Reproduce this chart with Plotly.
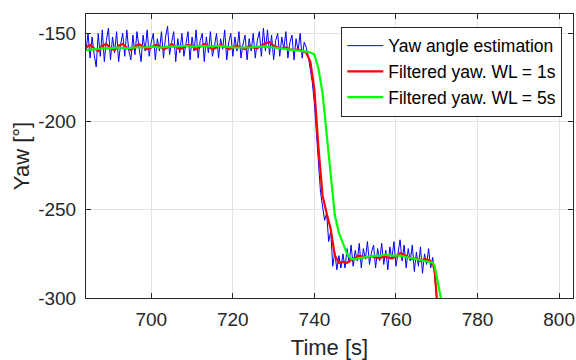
import numpy as np
import plotly.graph_objects as go

# ---- data ----
yaw_t0 = 684.0
yaw_dt = 0.5
yaw_est = [
    -160, -150, -164, -152, -162, -169, -150, -163, -148, -166,
    -154, -147, -165, -152, -161, -149, -166, -156, -150, -163,
    -148, -160, -165, -151, -162, -149, -158, -166, -151, -160,
    -148, -163, -155, -150, -165, -153, -160, -149, -164, -152,
    -146, -162, -155, -149, -166, -153, -161, -150, -163, -156,
    -149, -165, -152, -160, -148, -164, -154, -150, -166, -152,
    -161, -149, -163, -157, -150, -164, -153, -159, -148, -165,
    -155, -150, -163, -152, -160, -149, -164, -156, -151, -165,
    -153, -160, -150, -164, -154, -149, -163, -147, -160, -148,
    -162, -151, -165, -154, -150, -163, -152, -159, -149, -164,
    -155, -151, -165, -153, -160, -150, -164, -155, -158,
    # drop and second plateau (from 738.5 s)
    -163, -170, -178, -190, -205, -225, -240, -248, -256, -252,
    -268, -262, -282, -274, -284, -276, -283, -275, -283, -272,
    -280, -270, -282, -273, -279, -269, -283, -272, -278, -268,
    -281, -274, -270, -283, -272, -279, -269, -281, -273, -284,
    -271, -278, -268, -282, -274, -267, -279, -270, -283, -272,
    -279, -270, -285, -274, -282, -271, -286, -275, -281, -272,
    -283, -277, -288, -300, -315,
]

red_t = [684, 685, 686, 687, 688, 689, 690, 691, 692, 693, 694, 695, 696, 697,
         698, 699, 700, 701, 702, 703, 704, 705, 706, 707, 708, 709, 710, 711,
         712, 713, 714, 715, 716, 717, 718, 719, 720, 721, 722, 723, 724, 725,
         726, 727, 728, 729, 730, 731, 732, 733, 734, 735, 736, 737, 738, 739,
         740, 741, 742, 743, 744, 745, 746, 747, 748, 749, 750, 751, 752, 753,
         754, 755, 756, 757, 758, 759, 760, 761, 762, 763, 764, 765, 766, 767,
         768, 769, 769.5, 770, 770.5]
red_y = [-158, -156.5, -158.5, -160, -157, -156, -158.5, -159.5, -157, -156,
         -158, -159.5, -157.5, -156, -157.5, -159, -158, -156.5, -157, -159,
         -158, -156, -157.5, -159, -158, -156.5, -157, -159, -157.5, -156,
         -157.5, -159, -158, -156.5, -157.5, -159, -158, -157, -158, -159,
         -157, -158, -158.5, -157, -155.5, -155, -157, -158, -158.5, -158,
         -159, -159.5, -159, -160, -161, -166, -182, -215, -242, -252,
         -261, -276, -280, -279.5, -280, -278.5, -277, -276, -276.5, -277,
         -276.5, -277, -277.5, -276.5, -277, -277.5, -276.5, -274.5, -275.5, -277,
         -278, -277.5, -279, -278, -278.5, -280, -285, -300, -310]

green_t = [684, 686, 688, 690, 692, 694, 696, 698, 700, 702, 704, 706, 708, 710,
           712, 714, 716, 718, 720, 722, 724, 726, 728, 730, 732, 734, 736, 737,
           738, 739, 740, 741, 742, 743, 744, 745, 746, 747, 748, 749, 750, 751,
           752, 753, 754, 755, 756, 757, 758, 759, 760, 761, 762, 763, 764, 765,
           766, 767, 768, 769, 769.5, 770, 770.5, 771, 771.5]
green_y = [-159.5, -159, -158.5, -158.5, -158, -158.5, -158, -158, -157.5, -158,
           -157.5, -157.5, -157, -157.5, -157, -157.5, -157, -157.5, -158, -158,
           -158, -157.5, -157.5, -158, -158.5, -159, -159.5, -160, -160.3, -160.8,
           -162, -170, -184, -207, -232, -253, -263, -269, -275, -278,
           -278, -277.5, -277, -276.5, -276.5, -276, -276, -275.5, -275.5, -276,
           -276, -276, -276.5, -277, -277.5, -278, -278.5, -279, -279.5, -280,
           -282, -288, -294, -300, -306]

x_ticks = [700, 720, 740, 760, 780, 800]
x_labels = ["700", "720", "740", "760", "780", "800"]
y_ticks = [-300, -250, -200, -150]
y_labels = ["-300", "-250", "-200", "-150"]
x_range = [684, 803.4]
y_range = [-300, -139]

names = ["Yaw angle estimation", "Filtered yaw. WL = 1s", "Filtered yaw. WL = 5s"]

yaw_t = yaw_t0 + yaw_dt * np.arange(len(yaw_est))

# ---- figure ----
FONT = "Liberation Sans, Arial, sans-serif"
TXT = "#262626"
fig = go.Figure()
fig.add_trace(go.Scatter(x=yaw_t, y=yaw_est, mode="lines", name=names[0],
                         line=dict(color="#0000FF", width=1)))
fig.add_trace(go.Scatter(x=red_t, y=red_y, mode="lines", name=names[1],
                         line=dict(color="#FF0000", width=2.2)))
fig.add_trace(go.Scatter(x=green_t, y=green_y, mode="lines", name=names[2],
                         line=dict(color="#00FF00", width=2.2)))

axis_common = dict(
    showline=True, linecolor=TXT, linewidth=1, mirror="ticks",
    ticks="inside", ticklen=5, tickcolor=TXT, tickwidth=1,
    showgrid=True, gridcolor="#E3E3E3", gridwidth=1, zeroline=False,
    tickfont=dict(family=FONT, size=19, color=TXT),
)
fig.update_xaxes(range=x_range, tickvals=x_ticks, ticktext=x_labels, ticklabelstandoff=4,
                 **axis_common,
                 title=dict(text="Time [s]", font=dict(family=FONT, size=22, color=TXT), standoff=12))
fig.update_yaxes(range=y_range, tickvals=y_ticks, ticktext=y_labels, ticklabelstandoff=5,
                 **axis_common,
                 title=dict(text="Yaw [°]", font=dict(family=FONT, size=22, color=TXT), standoff=2))

fig.update_layout(
    width=576, height=360,
    margin=dict(l=86, r=3, t=14, b=62, autoexpand=False),
    plot_bgcolor="white", paper_bgcolor="white",
    font=dict(family=FONT, color=TXT),
    legend=dict(x=0.978, y=0.955, xanchor="right", yanchor="top",
                bgcolor="white", bordercolor=TXT, borderwidth=1,
                font=dict(family=FONT, size=17.5, color="#000000"),
                tracegroupgap=0, itemwidth=36),
    showlegend=True,
)

fig.write_html("out.html", config={"displayModeBar": False},
               post_script="document.body.style.margin='0';document.body.style.padding='0';")
